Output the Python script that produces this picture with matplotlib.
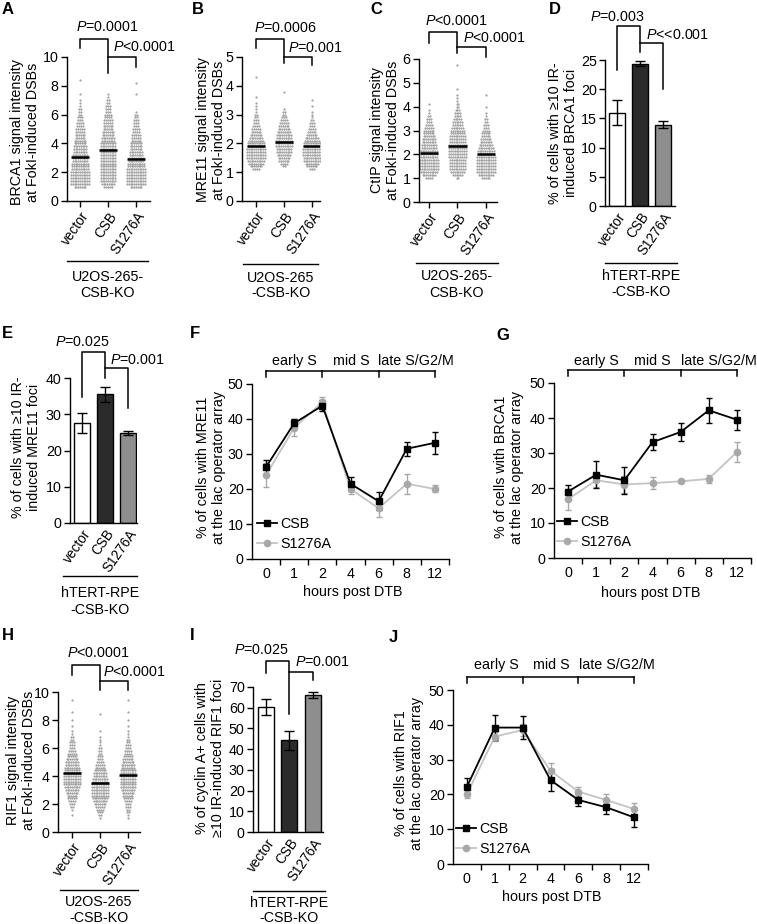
import numpy as np
import matplotlib
matplotlib.use("Agg")
import matplotlib.pyplot as plt
from matplotlib.transforms import blended_transform_factory

plt.rcParams['font.family'] = ['Liberation Sans', 'DejaVu Sans']
plt.rcParams['font.size'] = 10
plt.rcParams['mathtext.fontset'] = 'custom'
plt.rcParams['mathtext.it'] = 'Liberation Sans:italic'
plt.rcParams['mathtext.rm'] = 'Liberation Sans'

# ---------------- data ----------------
groups = ["vector", "CSB", "S1276A"]
hours = ["0", "1", "2", "4", "6", "8", "12"]

# scatter panels: counts of cells per intensity bin (bin start, bin step, counts)
a_vector = (1.0, 0.2, [7, 11, 11, 11, 11, 11, 10, 10, 10, 9, 9, 9, 8, 8, 8, 7, 7, 6, 6, 5, 5, 4, 4, 3, 3,
                       2, 2, 2, 1, 1, 1, 0, 1, 0, 0, 0, 0, 1])
a_csb = (1.0, 0.2, [5, 8, 9, 9, 9, 9, 9, 9, 9, 9, 9, 9, 9, 9, 9, 9, 8, 8, 7, 7, 6, 6, 5, 5, 4, 4, 3, 3, 3,
                    2, 2, 1, 1])
a_s1276a = (1.0, 0.2, [7, 11, 11, 11, 11, 11, 11, 10, 10, 9, 9, 8, 8, 7, 7, 7, 6, 5, 5, 4, 4, 3, 3, 3,
                       2, 2, 1, 0, 0, 0, 0, 0, 1, 0, 0, 0, 1])
a_means = [3.05, 3.55, 2.92]

b_vector = (1.1, 0.1, [4, 7, 9, 10, 11, 11, 11, 11, 10, 10, 9, 8, 7, 6, 5, 4, 3, 3, 2, 2, 1, 1, 1, 1,
                       0, 1, 0, 0, 0, 0, 0, 0, 1])
b_csb = (1.2, 0.1, [2, 4, 6, 7, 8, 9, 9, 10, 10, 10, 9, 9, 8, 7, 6, 5, 4, 3, 2, 2, 1, 0, 0, 0, 0, 0, 1])
b_s1276a = (1.1, 0.1, [3, 6, 8, 10, 10, 11, 11, 11, 10, 10, 9, 8, 6, 5, 4, 3, 3, 2, 1, 1, 1, 0, 1, 0, 1])
b_means = [1.92, 2.05, 1.92]

c_vector = (1.0, 0.125, [4, 8, 10, 11, 11, 11, 11, 10, 10, 10, 9, 9, 8, 8, 7, 6, 6, 5, 4, 3, 3, 2, 1, 1,
                         0, 1])
c_csb = (1.0, 0.125, [2, 6, 8, 9, 9, 9, 9, 10, 10, 10, 10, 10, 9, 9, 9, 8, 8, 7, 6, 6, 5, 4, 4, 3, 2, 2,
                      1, 1, 1, 0, 1, 0, 0, 0, 0, 0, 0, 0, 1])
c_s1276a = (1.0, 0.125, [5, 9, 11, 11, 11, 11, 11, 11, 10, 10, 9, 8, 7, 6, 5, 5, 4, 3, 3, 2, 2, 1, 1, 0,
                         1, 0, 0, 0, 1])
c_means = [2.05, 2.35, 2.0]

h_vector = (1.2, 0.2, [1, 0, 1, 2, 3, 4, 5, 6, 7, 8, 9, 10, 10, 10, 10, 10, 9, 9, 8, 8, 7, 6, 5, 4, 3, 3,
                       3, 2, 2, 1, 1, 0, 1, 0, 1, 0, 0, 1, 0, 0, 0, 1])
h_csb = (1.0, 0.2, [1, 2, 3, 4, 5, 7, 8, 9, 10, 10, 10, 10, 10, 9, 9, 8, 8, 7, 6, 5, 4, 3, 3, 2, 2, 2, 1,
                    1, 1, 1, 0, 1, 0, 0, 0, 0, 0, 1])
h_s1276a = (1.0, 0.2, [1, 1, 2, 2, 3, 3, 4, 5, 6, 7, 8, 9, 9, 9, 9, 9, 9, 9, 8, 8, 7, 6, 5, 4, 4, 3, 3,
                       2, 2, 1, 1, 1, 0, 1, 0, 1, 0, 0, 1, 0, 0, 0, 1])
h_means = [4.2, 3.5, 4.05]

# bar panels
d_vals = [16.0, 24.4, 13.9]
d_err = [2.1, 0.5, 0.6]
e_vals = [27.6, 35.5, 24.8]
e_err = [2.8, 2.0, 0.6]
i_vals = [60.4, 44.3, 66.3]
i_err = [4.0, 4.5, 1.5]

# time courses
f_csb = [26.3, 38.8, 43.8, 21.5, 16.5, 31.5, 33.2]
f_csb_err = [2.0, 1.3, 1.5, 2.0, 2.5, 2.0, 3.2]
f_mut = [24.0, 37.5, 44.8, 20.0, 14.5, 21.5, 20.0]
f_mut_err = [3.5, 2.5, 1.5, 1.5, 2.5, 2.8, 1.0]

g_csb = [19.0, 23.8, 22.2, 33.1, 36.0, 42.2, 39.5]
g_csb_err = [2.0, 3.8, 3.8, 2.3, 2.7, 3.5, 2.8]
g_mut = [16.8, 22.2, 21.0, 21.4, 21.9, 22.6, 30.3]
g_mut_err = [3.0, 2.0, 2.3, 1.7, 0.3, 1.2, 2.8]

j_csb = [22.2, 39.2, 39.2, 24.1, 18.4, 16.3, 13.4]
j_csb_err = [2.5, 3.5, 3.3, 3.2, 1.6, 1.8, 2.7]
j_mut = [20.1, 36.6, 38.5, 26.8, 20.8, 18.4, 15.8]
j_mut_err = [1.2, 1.3, 1.8, 2.3, 1.4, 1.8, 1.6]

# ---------------- layout helpers ----------------
W, H = 757, 924
fig = plt.figure(figsize=(W / 100, H / 100), dpi=100)


def fy(y):
    return 1 - y / H


def box(x0, y0, x1, y1):
    ax = fig.add_axes([x0 / W, 1 - y1 / H, (x1 - x0) / W, (y1 - y0) / H])
    for s in ["top", "right"]:
        ax.spines[s].set_visible(False)
    for s in ["left", "bottom"]:
        ax.spines[s].set_linewidth(1.0)
    ax.tick_params(direction="out", length=4, width=1.0, labelsize=10.3, pad=2)
    return ax


def ptext(x, y, s, **kw):
    kw.setdefault("fontsize", 10.3)
    fig.text(x / W, fy(y), s, **kw)


def letter(x, y, s):
    ptext(x, y, s, fontsize=12, fontweight="bold", ha="left", va="center")


def ylab(x, y, s):
    ptext(x, y, s, rotation=90, ha="center", va="center", multialignment="center",
          linespacing=1.1)


def group_label(x0, x1, yline, s1, s2, y1, y2):
    fig.add_artist(plt.Line2D([x0 / W, x1 / W], [fy(yline)] * 2, color="k", lw=1.0))
    ptext((x0 + x1) / 2, y1, s1, ha="center", va="center")
    ptext((x0 + x1) / 2, y2, s2, ha="center", va="center")


def cat_axis(ax, ticks=True):
    ax.set_xticks(range(3))
    ax.set_xticklabels(groups, rotation=55, ha="right", rotation_mode="anchor", fontsize=9.8)
    if not ticks:
        ax.tick_params(axis="x", length=0, pad=3)


def pvals(ax, y1, l1, r1, y2, r2, t1, tx1, ty1, t2, tx2, ty2):
    tr = blended_transform_factory(ax.transData, fig.transFigure)
    kw = dict(color="k", lw=1.1, transform=tr, clip_on=False)
    ax.plot([0, 0, 1, 1], [fy(l1), fy(y1), fy(y1), fy(r1)], **kw)
    ax.plot([1, 2, 2], [fy(y2), fy(y2), fy(r2)], **kw)
    ax.text(tx1, fy(ty1), t1, transform=tr, ha="center", va="center", fontsize=10.3)
    ax.text(tx2, fy(ty2), t2, transform=tr, ha="left", va="center", fontsize=10.3)


def swarm(ax, data, means, dx):
    for i, (start, step, counts) in enumerate(data):
        xs, ys = [], []
        for k, n in enumerate(counts):
            v = start + k * step
            for j in range(n):
                xs.append(i + (j - (n - 1) / 2) * dx)
                ys.append(v)
        ax.scatter(xs, ys, s=2.6, c="#a2a2a2", linewidths=0, zorder=2)
        ax.plot([i - 0.32, i + 0.32], [means[i], means[i]], color="k", lw=1.8, zorder=3,
                solid_capstyle="butt")


def bars(ax, vals, errs):
    ax.bar(range(3), vals, width=0.68, color=["white", "#2b2b2b", "#8e8e8e"], edgecolor="k",
           linewidth=1.0, yerr=errs, capsize=3.5, error_kw=dict(elinewidth=1.0, capthick=1.0, ecolor="k"))


def timecourse(ax, csb, csb_err, mut, mut_err, top):
    x = np.arange(len(hours))
    e2 = ax.errorbar(x, mut, yerr=mut_err, color="#c4c4c4", ecolor="#a8a8a8", marker="o", ms=4.5,
                     mfc="#a8a8a8", mec="#a8a8a8", lw=1.3, capsize=2.5, elinewidth=1.0, clip_on=False)
    e1 = ax.errorbar(x, csb, yerr=csb_err, color="k", marker="s", ms=4, lw=1.3, capsize=2.5,
                     elinewidth=1.0, clip_on=False)
    ax.set_xlim(-0.5, 6.5)
    ax.set_ylim(0, top)
    ax.set_yticks(range(0, top + 1, 10))
    ax.set_xticks(x)
    ax.set_xticklabels(hours)
    ax.tick_params(axis="x", which="major", length=0, pad=6)
    ax.set_xticks(np.arange(0.5, 7, 1), minor=True)
    ax.tick_params(axis="x", which="minor", length=4, width=1.0, direction="out")
    return e1[0], e2[0]


def phases(ax, yline, ytext, tx):
    tr = blended_transform_factory(ax.transData, fig.transFigure)
    kw = dict(color="k", lw=1.1, transform=tr, clip_on=False)
    ax.plot([0, 6], [fy(yline)] * 2, **kw)
    for xi in [0, 2, 4, 6]:
        ax.plot([xi, xi], [fy(yline), fy(yline + 6)], **kw)
    for t, x in zip(["early S", "mid S", "late S/G2/M"], tx):
        ax.text(x, fy(ytext), t, transform=tr, ha="center", va="center", fontsize=10.3)


def legend(ax, handles, x, y):
    ax.legend(handles, ["CSB", "S1276A"], loc="upper left", bbox_to_anchor=(x / W, fy(y)),
              bbox_transform=fig.transFigure, frameon=False, borderpad=0, borderaxespad=0,
              handlelength=1.4, handletextpad=0.25, labelspacing=0.4, fontsize=10.3)


# ---------------- A ----------------
ax = box(67, 57, 150, 201)
swarm(ax, [a_vector, a_csb, a_s1276a], a_means, 0.064)
ax.set_xlim(-0.464, 2.5)
ax.set_ylim(0, 10)
ax.set_yticks(range(0, 11, 2))
cat_axis(ax)
pvals(ax, 39, 48, 73, 57, 67, "$P$=0.0001", 0.96, 27, "$P$<0.0001", 1.18, 47)
ylab(25, 132, "BRCA1 signal intensity\nat FokI-induced DSBs")
group_label(67, 148, 261, "U2OS-265-", "CSB-KO", 277, 293)
letter(2, 10, "A")

# ---------------- B ----------------
ax = box(242, 57, 320, 201)
swarm(ax, [b_vector, b_csb, b_s1276a], b_means, 0.064)
ax.set_xlim(-0.5, 2.29)
ax.set_ylim(0, 5)
ax.set_yticks(range(0, 6))
cat_axis(ax)
pvals(ax, 39, 48, 63, 57, 65, "$P$=0.0006", 1.04, 28, "$P$=0.001", 1.14, 48)
ylab(211, 130, "MRE11 signal intensity\nat FokI-induced DSBs")
group_label(243, 318, 264, "U2OS-265", "-CSB-KO", 278, 293)
letter(192, 10, "B")

# ---------------- C ----------------
ax = box(419, 59, 497, 202)
swarm(ax, [c_vector, c_csb, c_s1276a], c_means, 0.063)
ax.set_xlim(-0.35, 2.39)
ax.set_ylim(0, 6)
ax.set_yticks(range(0, 7))
cat_axis(ax)
pvals(ax, 32, 43, 53, 47, 57, "$P$<0.0001", 0.97, 21, "$P$<0.0001", 1.19, 38)
ylab(385, 130, "CtIP signal intensity\nat FokI-induced DSBs")
group_label(416, 498, 263, "U2OS-265-", "CSB-KO", 276, 293)
letter(370, 10, "C")

# ---------------- D ----------------
ax = box(605, 60, 675, 206)
bars(ax, d_vals, d_err)
ax.set_xlim(-0.52, 2.52)
ax.set_ylim(0, 25)
ax.set_yticks(range(0, 26, 5))
cat_axis(ax, ticks=False)
pvals(ax, 26, 70, 52, 43, 89, "$P$=0.003", 0.04, 17, "$P$<<0.001", 1.26, 35)
ylab(563, 133, "% of cells with \u226510 IR-\ninduced BRCA1 foci")
group_label(605, 677, 263, "hTERT-RPE", "-CSB-KO", 276, 292)
letter(549, 10, "D")

# ---------------- E ----------------
ax = box(70, 378, 137, 523)
bars(ax, e_vals, e_err)
ax.set_xlim(-0.52, 2.39)
ax.set_ylim(0, 40)
ax.set_yticks(range(0, 41, 10))
cat_axis(ax, ticks=False)
pvals(ax, 352, 397, 378, 368, 408, "$P$=0.025", 0.0, 342, "$P$=0.001", 1.22, 360)
ylab(26, 447, "% of cells with \u226510 IR-\ninduced MRE11 foci")
group_label(63, 137, 576, "hTERT-RPE", "-CSB-KO", 593, 610)
letter(2, 333, "E")

# ---------------- F ----------------
ax = box(252, 384, 449, 559)
hs = timecourse(ax, f_csb, f_csb_err, f_mut, f_mut_err, 50)
phases(ax, 371, 361, [1.02, 3.04, 5.34])
legend(ax, hs, 257, 517)
ylab(211, 467, "% of cells with MRE11\nat the lac operator array")
ptext(353, 592, "hours post DTB", ha="center", va="center")
letter(190, 333, "F")

# ---------------- G ----------------
ax = box(554, 383, 751, 558)
hs = timecourse(ax, g_csb, g_csb_err, g_mut, g_mut_err, 50)
phases(ax, 370, 361, [0.99, 3.01, 5.35])
legend(ax, hs, 557, 515)
ylab(509, 467, "% of cells with BRCA1\nat the lac operator array")
ptext(651, 593, "hours post DTB", ha="center", va="center")
letter(496, 335, "G")

# ---------------- H ----------------
ax = box(58, 692, 140, 832)
swarm(ax, [h_vector, h_csb, h_s1276a], h_means, 0.064)
ax.set_xlim(-0.5, 2.43)
ax.set_ylim(0, 10)
ax.set_yticks(range(0, 11, 2))
cat_axis(ax)
pvals(ax, 665, 675, 690, 681, 690, "$P$<0.0001", 0.96, 653, "$P$<0.0001", 1.1, 672)
ylab(21, 760, "RIF1 signal intensity\nat FokI-induced DSBs")
group_label(60, 138, 890, "U2OS-265", "-CSB-KO", 902, 918)
letter(2, 635, "H")

# ---------------- I ----------------
ax = box(253, 687, 323, 832)
bars(ax, i_vals, i_err)
ax.set_xlim(-0.55, 2.43)
ax.set_ylim(0, 70)
ax.set_yticks(range(0, 71, 10))
cat_axis(ax, ticks=False)
pvals(ax, 661, 673, 714, 672, 680, "$P$=0.025", -0.17, 650, "$P$=0.001", 1.23, 662)
ylab(210, 758, "% of cyclin A+ cells with\n\u226510 IR-induced RIF1 foci")
group_label(253, 325, 891, "hTERT-RPE", "-CSB-KO", 903, 918)
letter(190, 635, "I")

# ---------------- J ----------------
ax = box(453, 690, 648, 864)
hs = timecourse(ax, j_csb, j_csb_err, j_mut, j_mut_err, 50)
phases(ax, 677, 665, [1.04, 3.04, 5.4])
legend(ax, hs, 456, 822)
ylab(409, 773, "% of cells with RIF1\nat the lac operator array")
ptext(552, 897, "hours post DTB", ha="center", va="center")
letter(389, 637, "J")

fig.savefig("out.png", dpi=100)
